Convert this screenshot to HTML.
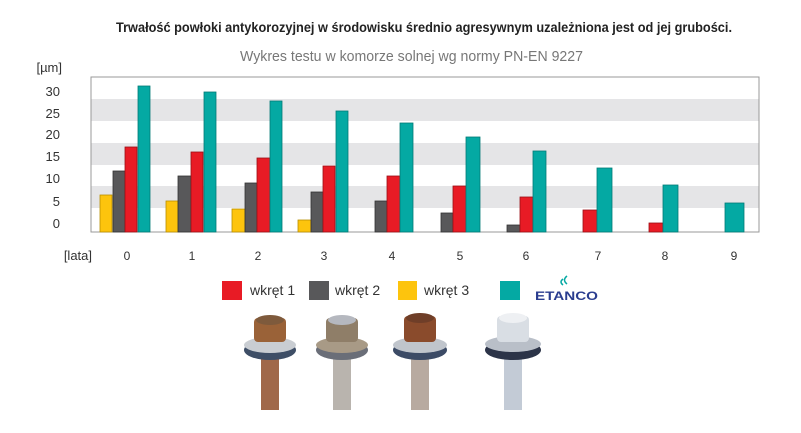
<!DOCTYPE html>
<html><head><meta charset="utf-8"><style>
html,body{margin:0;padding:0;background:#fff;width:801px;height:433px;overflow:hidden}
svg{display:block;font-family:"Liberation Sans",sans-serif}
</style></head><body>
<svg width="801" height="433" viewBox="0 0 801 433" xmlns="http://www.w3.org/2000/svg">
<rect width="801" height="433" fill="#fff"/>
<text x="116" y="32" font-size="14" font-weight="bold" fill="#222" textLength="616" lengthAdjust="spacingAndGlyphs">Trwałość powłoki antykorozyjnej w środowisku średnio agresywnym uzależniona jest od jej grubości.</text>
<text x="240" y="61" font-size="15" fill="#777" textLength="343" lengthAdjust="spacingAndGlyphs">Wykres testu w komorze solnej wg normy PN-EN 9227</text>
<!-- plot bands -->
<rect x="91" y="99" width="668" height="22" fill="#e5e5e7"/>
<rect x="91" y="143" width="668" height="22" fill="#e5e5e7"/>
<rect x="91" y="186" width="668" height="22" fill="#e5e5e7"/>
<rect x="91" y="77" width="668" height="155" fill="none" stroke="#999" stroke-width="1"/>
<!-- y labels -->
<g font-size="13" fill="#333" text-anchor="end">
<text x="62" y="72">[µm]</text>
<text x="60" y="96">30</text><text x="60" y="118">25</text><text x="60" y="139">20</text>
<text x="60" y="161">15</text><text x="60" y="183">10</text><text x="60" y="206">5</text><text x="60" y="228">0</text>
<text x="92" y="260">[lata]</text>
</g>
<g font-size="12" fill="#333" text-anchor="middle">
<text x="127" y="260">0</text><text x="192" y="260">1</text><text x="258" y="260">2</text><text x="324" y="260">3</text><text x="392" y="260">4</text>
<text x="460" y="260">5</text><text x="526" y="260">6</text><text x="598" y="260">7</text><text x="665" y="260">8</text><text x="734" y="260">9</text>
</g>
<g stroke-width="0.8">
<!-- yellow -->
<g fill="#fdc40d" stroke="#b98f00">
<rect x="100" y="195" width="12" height="37"/><rect x="166" y="201" width="12" height="31"/>
<rect x="232" y="209" width="13" height="23"/><rect x="298" y="220" width="13" height="12"/>
</g>
<g fill="#58585a" stroke="#333">
<rect x="113" y="171" width="12" height="61"/><rect x="178" y="176" width="13" height="56"/>
<rect x="245" y="183" width="12" height="49"/><rect x="311" y="192" width="12" height="40"/>
<rect x="375" y="201" width="12" height="31"/><rect x="441" y="213" width="12" height="19"/>
<rect x="507" y="225" width="13" height="7"/>
</g>
<g fill="#e81b25" stroke="#9a1016">
<rect x="125" y="147" width="12" height="85"/><rect x="191" y="152" width="12" height="80"/>
<rect x="257" y="158" width="13" height="74"/><rect x="323" y="166" width="12" height="66"/>
<rect x="387" y="176" width="13" height="56"/><rect x="453" y="186" width="13" height="46"/>
<rect x="520" y="197" width="13" height="35"/><rect x="583" y="210" width="14" height="22"/>
<rect x="649" y="223" width="14" height="9"/>
</g>
<g fill="#04a9a3" stroke="#037a76">
<rect x="138" y="86" width="12" height="146"/><rect x="204" y="92" width="12" height="140"/>
<rect x="270" y="101" width="12" height="131"/><rect x="336" y="111" width="12" height="121"/>
<rect x="400" y="123" width="13" height="109"/><rect x="466" y="137" width="14" height="95"/>
<rect x="533" y="151" width="13" height="81"/><rect x="597" y="168" width="15" height="64"/>
<rect x="663" y="185" width="15" height="47"/><rect x="725" y="203" width="19" height="29"/>
</g>
</g>
<!-- legend -->
<rect x="222" y="281" width="20" height="19" fill="#e81b25"/>
<text x="250" y="295" font-size="14" fill="#333">wkręt 1</text>
<rect x="309" y="281" width="20" height="19" fill="#58585a"/>
<text x="335" y="295" font-size="14" fill="#333">wkręt 2</text>
<rect x="398" y="281" width="19" height="19" fill="#fdc40d"/>
<text x="424" y="295" font-size="14" fill="#333">wkręt 3</text>
<rect x="500" y="281" width="20" height="19" fill="#04a9a3"/>
<text x="535" y="300" font-size="12" font-weight="bold" fill="#2a3d8f" textLength="63" lengthAdjust="spacingAndGlyphs">ETANCO</text>
<path d="M563 279 q-4 3 0 6 M567 276 q-5 4 0 8" stroke="#04a9a3" stroke-width="1.5" fill="none"/>
<!-- screws -->
<g>
<g transform="translate(270,0)">
<rect x="-9" y="358" width="18" height="52" fill="#a0684a"/>
<ellipse cx="0" cy="350" rx="26" ry="10" fill="#3e4e66"/>
<ellipse cx="0" cy="345" rx="26" ry="8" fill="#c9cdd2"/>
<rect x="-16" y="318" width="32" height="24" rx="4" fill="#9a6238"/>
<ellipse cx="0" cy="320" rx="14" ry="5" fill="#7e5a3c"/>
</g>
<g transform="translate(342,0)">
<rect x="-9" y="358" width="18" height="52" fill="#b9b4ae"/>
<ellipse cx="0" cy="350" rx="26" ry="10" fill="#6a6e78"/>
<ellipse cx="0" cy="345" rx="26" ry="8" fill="#a89a86"/>
<rect x="-16" y="318" width="32" height="24" rx="4" fill="#8f7e68"/>
<ellipse cx="0" cy="320" rx="14" ry="5" fill="#b5b8bf"/>
</g>
<g transform="translate(420,0)">
<rect x="-9" y="358" width="18" height="52" fill="#b8aaa0"/>
<ellipse cx="0" cy="350" rx="27" ry="10" fill="#3c4b66"/>
<ellipse cx="0" cy="345" rx="27" ry="8" fill="#c0c5cc"/>
<rect x="-16" y="316" width="32" height="26" rx="4" fill="#8a4b2c"/>
<ellipse cx="0" cy="318" rx="14" ry="5" fill="#6f3e28"/>
</g>
<g transform="translate(513,0)">
<rect x="-9" y="358" width="18" height="52" fill="#c3cbd6"/>
<ellipse cx="0" cy="350" rx="28" ry="10" fill="#2c3448"/>
<ellipse cx="0" cy="344" rx="28" ry="8" fill="#b9bfc8"/>
<rect x="-16" y="316" width="32" height="26" rx="4" fill="#d9dee4"/>
<ellipse cx="0" cy="318" rx="14" ry="5" fill="#eef0f3"/>
</g>
</g>
</svg>
</body></html>
